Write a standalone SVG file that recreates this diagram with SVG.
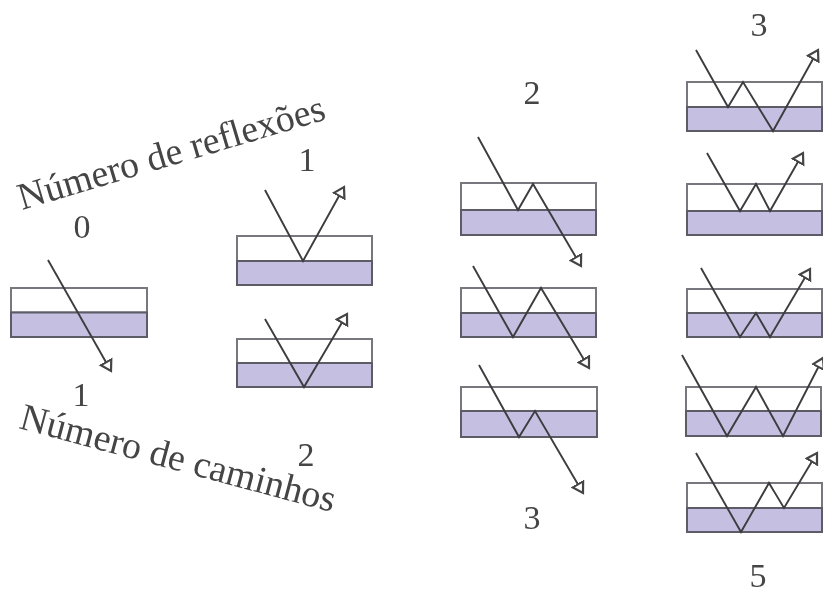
<svg xmlns="http://www.w3.org/2000/svg" width="823" height="595" viewBox="0 0 823 595">
<style>
.b{fill:#fff;stroke:#77777d;stroke-width:2}
.w{fill:#c5c0e2;stroke:#5c5c66;stroke-width:2}
.r{fill:none;stroke:#3c3c40;stroke-width:1.900;stroke-linejoin:miter;marker-end:url(#a)}
text{font-family:"Liberation Serif","Times New Roman",serif;fill:#444}
.t{font-size:38px}
.n{text-anchor:middle;font-size:34px}
</style>
<defs>
<marker id="a" markerUnits="userSpaceOnUse" markerWidth="18" markerHeight="18" refX="11" refY="8" orient="auto">
<path d="M1 2L11 8L1 14Z" fill="#fff" stroke="#444" stroke-width="2.200"/>
</marker>
<filter id="s" x="-5%" y="-5%" width="110%" height="110%"><feGaussianBlur stdDeviation="0.600"/></filter>
</defs>
<rect width="823" height="595" fill="#fff"/>
<g filter="url(#s)">
<g id="titles">
<text class="t" transform="translate(22 210) rotate(-16.600)">Número de reflexões</text>
<text class="t" transform="translate(18 428) rotate(15)">Número de caminhos</text>
</g>
<g id="n0"><rect class="b" x="11" y="288" width="136" height="24.500"/><rect class="w" x="11" y="312.500" width="136" height="24.500"/><text class="n" x="82" y="238">0</text><text class="n" x="81" y="406">1</text></g>
<g id="n1a"><rect class="b" x="237" y="236" width="135" height="25"/><rect class="w" x="237" y="261" width="135" height="24"/><text class="n" x="307" y="171">1</text></g>
<g id="n1b"><rect class="b" x="237" y="339" width="135" height="24"/><rect class="w" x="237" y="363" width="135" height="24"/><text class="n" x="306" y="466">2</text></g>
<g id="n2a"><rect class="b" x="461" y="183" width="135" height="27"/><rect class="w" x="461" y="210" width="135" height="25"/><text class="n" x="532" y="104">2</text></g>
<g id="n2b"><rect class="b" x="461" y="288" width="135" height="25"/><rect class="w" x="461" y="313" width="135" height="24"/></g>
<g id="n2c"><rect class="b" x="461" y="387" width="136" height="24"/><rect class="w" x="461" y="411" width="136" height="26"/><text class="n" x="532" y="529">3</text></g>
<g id="n3a"><rect class="b" x="687" y="82" width="135" height="25"/><rect class="w" x="687" y="107" width="135" height="24"/><text class="n" x="759" y="36">3</text></g>
<g id="n3b"><rect class="b" x="687" y="184" width="135" height="27"/><rect class="w" x="687" y="211" width="135" height="24"/></g>
<g id="n3c"><rect class="b" x="687" y="289" width="135" height="24"/><rect class="w" x="687" y="313" width="135" height="24"/></g>
<g id="n3d"><rect class="b" x="686" y="387" width="135" height="24"/><rect class="w" x="686" y="411" width="135" height="25"/></g>
<g id="n3e"><rect class="b" x="687" y="483" width="135" height="25"/><rect class="w" x="687" y="508" width="135" height="24"/><text class="n" x="758" y="587">5</text></g>
<g id="connectors">
<path class="r" d="M48 260L111 371"/>
<path class="r" d="M265 190L303 261L344 187"/>
<path class="r" d="M265 319L304 387L347 314"/>
<path class="r" d="M478 137L518 210L533 184L581 266"/>
<path class="r" d="M473 266L513 337L541 288L589 368"/>
<path class="r" d="M479 365L519 437L535 411L583 493"/>
<path class="r" d="M696 50L728 107L743 82L773 131L818 50"/>
<path class="r" d="M707 153L740 211L756 184L770 211L803 153"/>
<path class="r" d="M701 268L740 337L756 313L770 337L810 269"/>
<path class="r" d="M682 355L727 436L756 387L783 436L823 358"/>
<path class="r" d="M696 453L741 532L769 483L784 508L817 453"/>
</g>
</g>
</svg>
